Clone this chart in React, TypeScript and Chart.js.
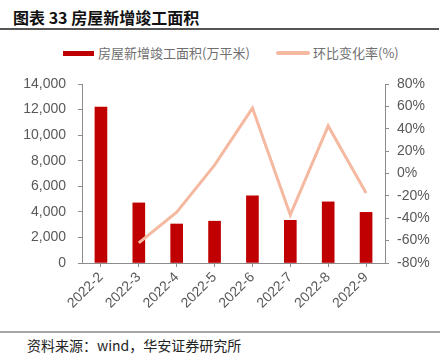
import React, { useEffect, useRef } from "react";
import { Chart, registerables } from "chart.js";

Chart.register(...registerables);

const categories = ["2022-2", "2022-3", "2022-4", "2022-5", "2022-6", "2022-7", "2022-8", "2022-9"];
const areaValues = [12200, 4700, 3050, 3270, 5250, 3340, 4780, 3960];
const momValues: (number | null)[] = [null, -62, -34.5, 7.5, 58.5, -37, 42.5, -17.5];
const leftTicks = [0, 2000, 4000, 6000, 8000, 10000, 12000, 14000];
const rightTicks = [-80, -60, -40, -20, 0, 20, 40, 60, 80];

const BAR_COLOR = "#C00000";
const LINE_COLOR = "#F4B9A0";
const TICK_COLOR = "#595959";
const AXIS_COLOR = "#8c8c8c";
const FONT = "'Liberation Sans', Arial, sans-serif";
const CJK = "'Noto Sans CJK SC', 'Noto Sans', sans-serif";

export default function App() {
  const ref = useRef<HTMLCanvasElement | null>(null);

  useEffect(() => {
    if (!ref.current) return;
    const chart = new Chart(ref.current, {
      type: "bar",
      data: {
        labels: categories,
        datasets: [
          {
            type: "line",
            label: "环比变化率(%)",
            data: momValues,
            yAxisID: "y1",
            borderColor: LINE_COLOR,
            backgroundColor: LINE_COLOR,
            borderWidth: 3,
            pointRadius: 0,
            tension: 0,
            spanGaps: false,
            order: 0,
          },
          {
            type: "bar",
            label: "房屋新增竣工面积(万平米)",
            data: areaValues,
            yAxisID: "y",
            backgroundColor: BAR_COLOR,
            borderWidth: 0,
            barThickness: 12,
            order: 1,
          },
        ],
      },
      options: {
        animation: false,
        responsive: false,
        maintainAspectRatio: false,
        layout: { padding: { top: 46, left: 0, right: 0, bottom: 0 } },
        plugins: { legend: { display: false }, tooltip: { enabled: false } },
        scales: {
          x: {
            offset: true,
            grid: { display: true, drawOnChartArea: false, drawTicks: true, tickLength: 4, color: AXIS_COLOR, offset: false },
            border: { display: true, color: AXIS_COLOR, width: 1 },
            ticks: {
              color: TICK_COLOR,
              font: { family: FONT, size: 14 },
              maxRotation: 45,
              minRotation: 45,
              padding: 2,
            },
            afterFit: (s: any) => { s.height = 65; },
          },
          y: {
            position: "left",
            min: 0,
            max: 14000,
            afterBuildTicks: (s: any) => { s.ticks = leftTicks.map((v) => ({ value: v })); },
            grid: { display: true, drawOnChartArea: false, drawTicks: true, tickLength: 4, color: AXIS_COLOR },
            border: { display: true, color: AXIS_COLOR, width: 1 },
            ticks: {
              color: TICK_COLOR,
              font: { family: FONT, size: 14 },
              padding: 12,
              callback: (v: any) => Number(v).toLocaleString("en-US"),
            },
            afterFit: (s: any) => { s.width = 82; },
          },
          y1: {
            position: "right",
            min: -80,
            max: 80,
            afterBuildTicks: (s: any) => { s.ticks = rightTicks.map((v) => ({ value: v })); },
            grid: { display: true, drawOnChartArea: false, drawTicks: true, tickLength: 4, color: AXIS_COLOR },
            border: { display: true, color: AXIS_COLOR, width: 1 },
            ticks: {
              color: TICK_COLOR,
              font: { family: FONT, size: 14 },
              padding: 8,
              callback: (v: any) => `${v}%`,
            },
            afterFit: (s: any) => { s.width = 62; },
          },
        },
      },
    });
    return () => chart.destroy();
  }, []);

  return (
    <div style={{ position: "fixed", left: 0, top: 0, width: 447, height: 362, background: "#fff", overflow: "hidden" }}>
      <div
        style={{
          position: "absolute",
          left: 13,
          top: 6,
          fontFamily: CJK,
          fontWeight: 700,
          fontSize: 16,
          lineHeight: "22px",
          color: "#111",
          whiteSpace: "nowrap",
        }}
      >
        图表 33 房屋新增竣工面积
      </div>
      <div style={{ position: "absolute", left: 0, top: 28, width: 439, height: 2, background: "#555" }} />
      <div style={{ position: "absolute", left: 63, top: 51, width: 31, height: 5, background: BAR_COLOR }} />
      <div
        style={{
          position: "absolute",
          left: 98,
          top: 44,
          fontFamily: CJK,
          fontSize: 13,
          lineHeight: "18px",
          color: "#6f6f6f",
          whiteSpace: "nowrap",
        }}
      >
        房屋新增竣工面积(万平米)
      </div>
      <div style={{ position: "absolute", left: 276, top: 51, width: 34, height: 4, background: LINE_COLOR, borderRadius: 2 }} />
      <div
        style={{
          position: "absolute",
          left: 313,
          top: 44,
          fontFamily: CJK,
          fontSize: 13,
          lineHeight: "18px",
          color: "#6f6f6f",
          whiteSpace: "nowrap",
        }}
      >
        环比变化率(%)
      </div>
      <canvas ref={ref} width={447} height={290} style={{ position: "absolute", left: 0, top: 38, width: 447, height: 290 }} />
      <div style={{ position: "absolute", left: 0, top: 331, width: 440, height: 2, background: "#a6a6a6" }} />
      <div
        style={{
          position: "absolute",
          left: 27,
          top: 336,
          fontFamily: CJK,
          fontSize: 14,
          lineHeight: "18px",
          color: "#222",
          whiteSpace: "nowrap",
        }}
      >
        资料来源：wind，华安证券研究所
      </div>
    </div>
  );
}
